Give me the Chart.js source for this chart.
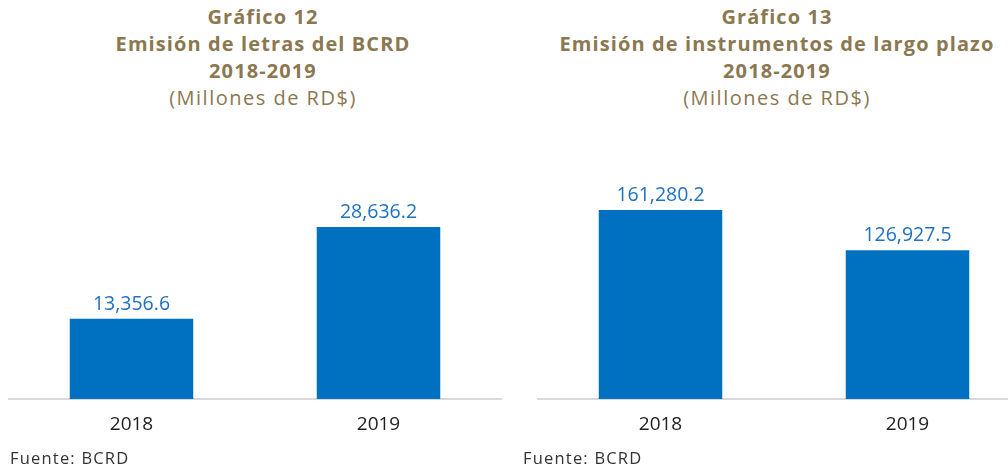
<!DOCTYPE html>
<html>
<head>
    <title>Emisión BCRD 2018-2019</title>
    <script src="https://cdn.jsdelivr.net/npm/chart.js"></script>
    <style>
        body { margin: 0; width: 1008px; height: 465px; background: #fff; font-family: "Open Sans", sans-serif; position: relative; overflow: hidden; }
        .title { position: absolute; top: 3px; text-align: center; color: #8b7750; font-size: 20px; line-height: 27px; }
        .title b { font-weight: 700; letter-spacing: 1.1px; }
        .title span { letter-spacing: 1.5px; }
        .src { position: absolute; top: 446px; font-size: 16.5px; letter-spacing: 1.2px; color: #333; }
        .box { position: absolute; top: 120px; width: 494px; height: 330px; }
    </style>
</head>
<body>
    <div class="title" style="left:13px;width:500px;"><b>Gráfico 12<br>Emisión de letras del BCRD<br>2018-2019</b><br><span>(Millones de RD$)</span></div>
    <div class="title" style="left:527px;width:500px;"><b>Gráfico 13<br>Emisión de instrumentos de largo plazo<br>2018-2019</b><br><span>(Millones de RD$)</span></div>
    <div class="box" style="left:8px;"><canvas id="chart12"></canvas></div>
    <div class="box" style="left:537px;"><canvas id="chart13"></canvas></div>
    <div class="src" style="left:10px;">Fuente: BCRD</div>
    <div class="src" style="left:523px;">Fuente: BCRD</div>
    <script>
        const years = ['2018', '2019'];
        const letras = [13356.6, 28636.2];
        const largoPlazo = [161280.2, 126927.5];

        const fmt = v => v.toLocaleString('en-US', { minimumFractionDigits: 1, maximumFractionDigits: 1 });

        const valueLabels = {
            id: 'valueLabels',
            afterDatasetsDraw(chart) {
                const c = chart.ctx;
                c.save();
                c.font = '19.5px "Open Sans"';
                c.fillStyle = '#1f72c2';
                c.textAlign = 'center';
                c.textBaseline = 'bottom';
                chart.getDatasetMeta(0).data.forEach((bar, i) => {
                    c.fillText(fmt(chart.data.datasets[0].data[i]), bar.x, bar.y - 5);
                });
                c.restore();
            }
        };

        function makeChart(id, values, yMax) {
            return new Chart(document.getElementById(id), {
                type: 'bar',
                data: {
                    labels: years,
                    datasets: [{
                        data: values,
                        backgroundColor: '#0070c0',
                        barPercentage: 0.5,
                        categoryPercentage: 1
                    }]
                },
                options: {
                    responsive: true,
                    maintainAspectRatio: false,
                    animation: false,
                    layout: { padding: 0 },
                    plugins: { legend: { display: false }, tooltip: { enabled: false } },
                    scales: {
                        x: {
                            grid: { display: false, drawTicks: false },
                            border: { display: true, color: '#d9d9d9', width: 2 },
                            ticks: { color: '#222', font: { family: '"Open Sans"', size: 19 }, padding: 14 },
                            afterFit: s => { s.height = 51; }
                        },
                        y: { display: false, min: 0, max: yMax }
                    }
                },
                plugins: [valueLabels]
            });
        }

        makeChart('chart12', letras, 46450);
        makeChart('chart13', largoPlazo, 238080);
    </script>
</body>
</html>
